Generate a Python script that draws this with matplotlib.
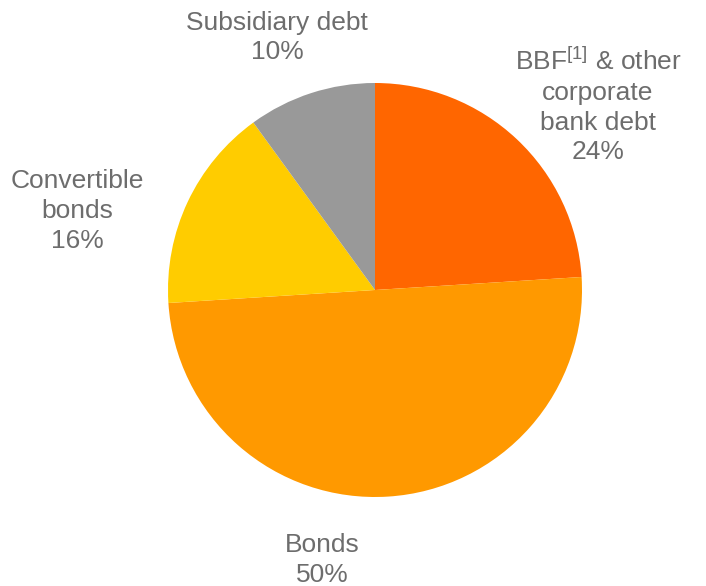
import matplotlib
matplotlib.use('Agg')
import matplotlib.pyplot as plt

labels = ['BBF$^{\\mathrm{[1]}}$ & other\ncorporate\nbank debt', 'Bonds', 'Convertible\nbonds', 'Subsidiary debt']
shares = [24, 50, 16, 10]
colors = ['#FF6600', '#FF9900', '#FFCC00', '#999999']
# label centres in pie-radius units
label_pos = [(1.077, 0.889), (-0.256, -1.304), (-1.44, 0.382), (-0.473, 1.22)]

plt.rcParams['font.family'] = ['Liberation Sans', 'DejaVu Sans']
plt.rcParams['mathtext.fontset'] = 'custom'
plt.rcParams['mathtext.rm'] = 'Liberation Sans'

fig = plt.figure(figsize=(7.06, 5.86), dpi=100)
ax = fig.add_axes([168 / 706, 89 / 586, 414 / 706, 414 / 586])

ax.pie(shares, colors=colors, startangle=90, counterclock=False, radius=1,
       wedgeprops=dict(linewidth=0))
ax.set_xlim(-1, 1)
ax.set_ylim(-1, 1)
ax.set_aspect('equal')
ax.axis('off')

for lab, val, (x, y) in zip(labels, shares, label_pos):
    ax.text(x, y, '%s\n%d%%' % (lab, val), ha='center', va='center',
            multialignment='center', fontsize=19, color='#6d6d6d',
            linespacing=1.3, clip_on=False)

fig.savefig('out.png', dpi=100)
